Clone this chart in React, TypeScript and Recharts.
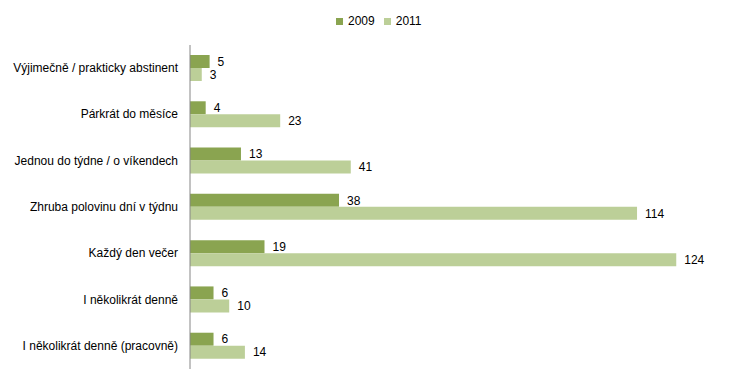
import { BarChart, Bar, XAxis, YAxis, LabelList } from "recharts";

// Frequency categories, top to bottom
const CATEGORIES = [
  "Výjimečně / prakticky abstinent",
  "Párkrát do měsíce",
  "Jednou do týdne / o víkendech",
  "Zhruba polovinu dní v týdnu",
  "Každý den večer",
  "I několikrát denně",
  "I několikrát denně (pracovně)",
];
const VALUES_2009 = [5, 4, 13, 38, 19, 6, 6];
const VALUES_2011 = [3, 23, 41, 114, 124, 10, 14];
const X_DOMAIN = [0, 140];

const DARK = "#8AA450";
const LIGHT = "#BCCF98";
const FONT = "'Liberation Sans', Arial, sans-serif";
const FS = 12;

const data = CATEGORIES.map((name, i) => ({
  name,
  y2009: VALUES_2009[i],
  y2011: VALUES_2011[i],
}));

function LegendItem({ color, label }: { color: string; label: string }) {
  return (
    <span style={{ display: "inline-flex", alignItems: "center", marginRight: 9 }}>
      <span style={{ width: 7, height: 7, background: color, marginRight: 5 }} />
      {label}
    </span>
  );
}

// single-line category label (the default tick wraps long text)
function CategoryTick({ x, y, payload }: any) {
  return (
    <text x={x} y={y} dy={4} textAnchor="end" fill="#000" fontSize={FS} fontFamily={FONT}>
      {payload.value}
    </text>
  );
}

export default function App() {
  return (
    <div style={{ width: 745, fontFamily: FONT, fontSize: FS, color: "#000" }}>
      <div
        style={{
          height: 20,
          display: "flex",
          justifyContent: "flex-start",
          alignItems: "flex-end",
          paddingLeft: 328,
          boxSizing: "border-box",
        }}
      >
        <LegendItem color={DARK} label="2009" />
        <LegendItem color={LIGHT} label="2011" />
      </div>
      <BarChart
        width={745}
        height={355}
        data={data}
        layout="vertical"
        margin={{ top: 17, right: 14, bottom: 14, left: 0 }}
        barGap={0}
        barCategoryGap={10}
      >
        <XAxis type="number" domain={X_DOMAIN} hide />
        <YAxis
          type="category"
          dataKey="name"
          width={182}
          tickLine={false}
          tickMargin={6}
          axisLine={{ stroke: "#868686" }}
          tick={<CategoryTick />}
          interval={0}
        />
        <Bar dataKey="y2009" fill={DARK} barSize={13} isAnimationActive={false}>
          <LabelList
            dataKey="y2009"
            position="right"
            offset={8}
            style={{ fill: "#000", fontSize: FS, fontFamily: FONT }}
          />
        </Bar>
        <Bar dataKey="y2011" fill={LIGHT} barSize={13} isAnimationActive={false}>
          <LabelList
            dataKey="y2011"
            position="right"
            offset={8}
            style={{ fill: "#000", fontSize: FS, fontFamily: FONT }}
          />
        </Bar>
      </BarChart>
    </div>
  );
}
